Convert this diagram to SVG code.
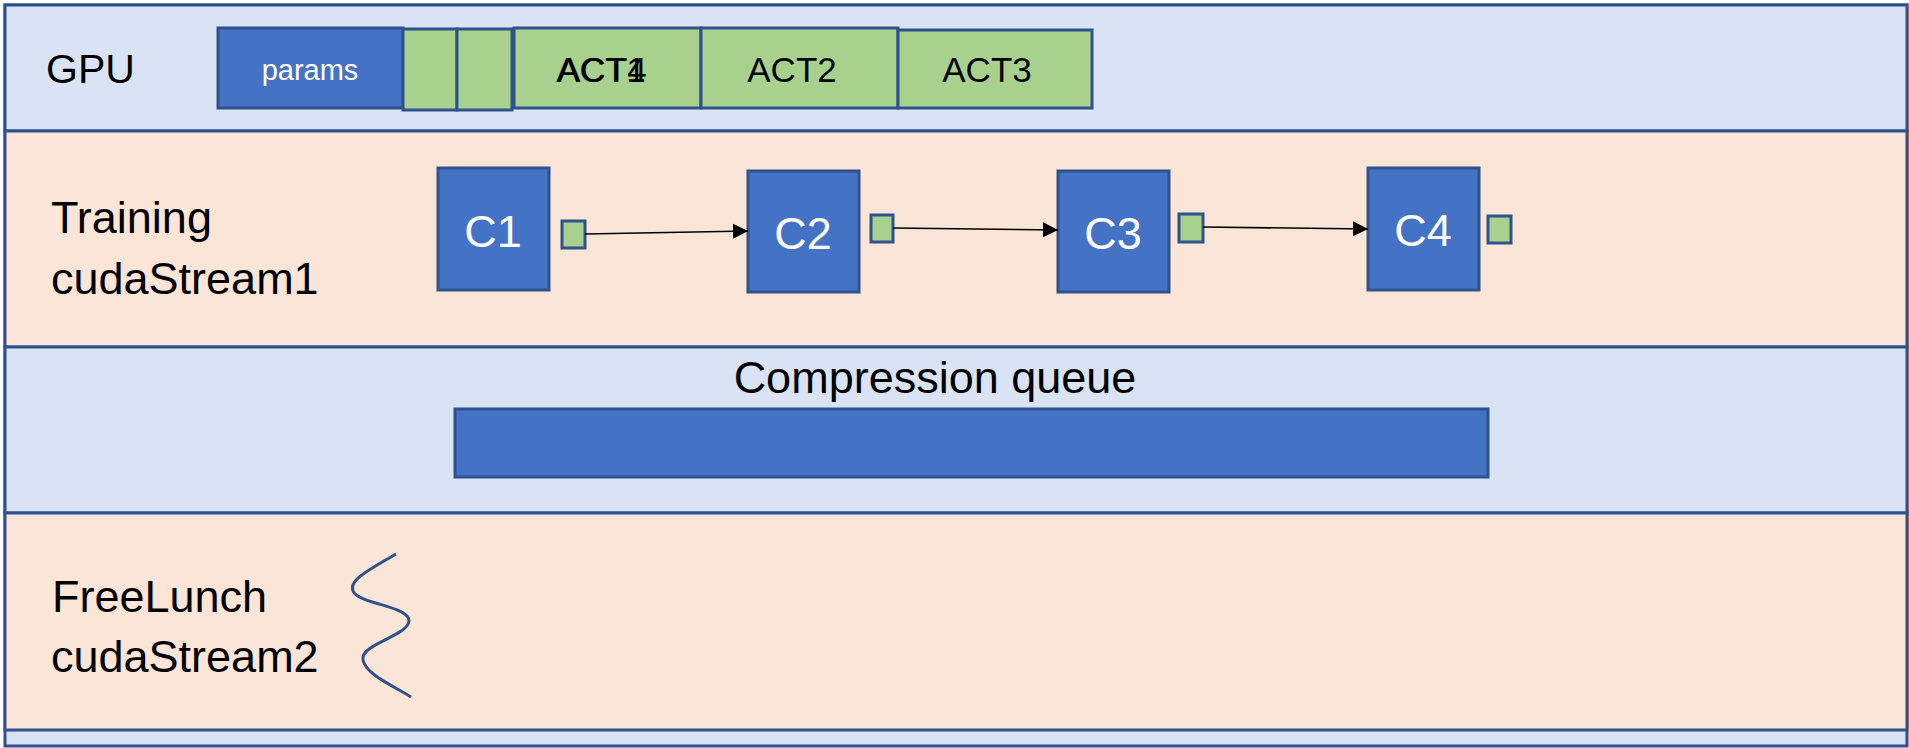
<svg xmlns="http://www.w3.org/2000/svg" width="1909" height="748" viewBox="0 0 1909 748">
<style>
.bandB{fill:#DAE3F3;stroke:#2F528F;stroke-width:3}
.bandP{fill:#FBE5D6;stroke:#2F528F;stroke-width:3}
.blue{fill:#4472C4;stroke:#2F528F;stroke-width:3}
.green{fill:#A9D18E;stroke:#2F528F;stroke-width:3}
.lbl{font-family:"Liberation Sans",Arial,sans-serif;font-size:45px;fill:#000}
.act{font-family:"Liberation Sans",Arial,sans-serif;font-size:35px;fill:#000;text-anchor:middle}
.wt{font-family:"Liberation Sans",Arial,sans-serif;fill:#fff;text-anchor:middle}
.conn{stroke:#000;stroke-width:1.6;fill:none}
</style>
<defs>
<marker id="ah" viewBox="0 0 10 10" refX="10" refY="5" markerWidth="15" markerHeight="16" markerUnits="userSpaceOnUse" orient="auto">
<path d="M0,0 L10,5 L0,10 Z" fill="#000"/>
</marker>
</defs>
<rect x="0" y="0" width="1909" height="748" fill="#ffffff"/>
<g id="frame">
<rect class="bandB" x="5" y="5" width="1902" height="741"/>
</g>
<g id="band-gpu">
<rect class="bandB" x="5" y="5" width="1902" height="126"/>
<text class="lbl" x="46" y="83" style="font-size:41px">GPU</text>
</g>
<g id="band-training">
<rect class="bandP" x="5" y="131" width="1902" height="216"/>
<text class="lbl" x="51" y="233">Training</text>
<text class="lbl" x="51" y="294">cudaStream1</text>
</g>
<g id="band-compression">
<rect class="bandB" x="5" y="347" width="1902" height="166"/>
<text class="lbl" x="935" y="393" text-anchor="middle">Compression queue</text>
</g>
<g id="band-freelunch">
<rect class="bandP" x="5" y="513" width="1902" height="217"/>
<text class="lbl" x="52" y="612">FreeLunch</text>
<text class="lbl" x="51" y="672">cudaStream2</text>
</g>
<g id="params">
<rect class="blue" x="218" y="28" width="185" height="80"/>
<text class="wt" x="310" y="80" font-size="29">params</text>
</g>
<g id="act-small-1"><rect class="green" x="403" y="29" width="54" height="81"/></g>
<g id="act-small-2"><rect class="green" x="457" y="29" width="55" height="81"/></g>
<g id="act1">
<rect class="green" x="514" y="28" width="187" height="80"/>
<text class="act" x="601" y="82">ACT1</text>
<text class="act" x="602" y="82">ACT4</text>
</g>
<g id="act2">
<rect class="green" x="701" y="28" width="197" height="80"/>
<text class="act" x="792" y="82">ACT2</text>
</g>
<g id="act3">
<rect class="green" x="898" y="30" width="194" height="78"/>
<text class="act" x="987" y="82">ACT3</text>
</g>
<g id="queue-bar">
<rect class="blue" x="455" y="409" width="1033" height="68"/>
</g>
<g id="c1">
<rect class="blue" x="438" y="168" width="111" height="122"/>
<text class="wt" x="493" y="247" font-size="45">C1</text>
</g>
<g id="g1"><rect class="green" x="562" y="221" width="23" height="27"/></g>
<g id="c2">
<rect class="blue" x="748" y="171" width="111" height="121"/>
<text class="wt" x="803" y="249" font-size="45">C2</text>
</g>
<g id="g2"><rect class="green" x="871" y="215" width="22" height="27"/></g>
<g id="c3">
<rect class="blue" x="1058" y="171" width="111" height="121"/>
<text class="wt" x="1113" y="249" font-size="45">C3</text>
</g>
<g id="g3"><rect class="green" x="1179" y="214" width="24" height="28"/></g>
<g id="c4">
<rect class="blue" x="1368" y="168" width="111" height="122"/>
<text class="wt" x="1423" y="246" font-size="45">C4</text>
</g>
<g id="g4"><rect class="green" x="1488" y="216" width="23" height="27"/></g>
<g id="connectors">
<line class="conn" x1="585" y1="234" x2="748" y2="231" marker-end="url(#ah)"/>
<line class="conn" x1="893" y1="228" x2="1058" y2="230" marker-end="url(#ah)"/>
<line class="conn" x1="1203" y1="227" x2="1368" y2="229" marker-end="url(#ah)"/>
</g>
<g id="squiggle">
<path d="M396,554 C372,568 348,580 353,591 C358,604 410,606 409,621 C408,636 360,644 363,660 C366,675 394,686 411,697" fill="none" stroke="#2F528F" stroke-width="3"/>
</g>
</svg>
